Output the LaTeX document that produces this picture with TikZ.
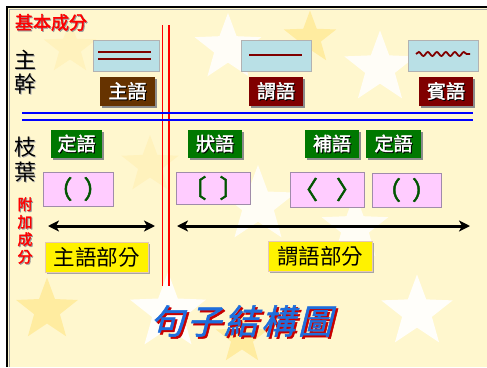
\documentclass[tikz,border=0pt]{standalone}
\usepackage{fontspec}
\newfontfamily\cjk{Noto Sans CJK TC}
\newfontfamily\cjkb[FakeBold=2]{Noto Sans CJK TC}
\newfontfamily\titlef[FakeSlant=0.25,FakeBold=1.5]{Noto Sans CJK TC}
\usetikzlibrary{shapes.geometric,shadows,arrows.meta,decorations.pathmorphing}
\definecolor{cream}{RGB}{255,247,206}
\definecolor{pyel}{RGB}{255,236,160}
\definecolor{lblue}{RGB}{185,224,230}
\definecolor{dred}{RGB}{128,0,0}
\definecolor{brownb}{RGB}{102,51,0}
\definecolor{gbox}{RGB}{0,120,0}
\definecolor{pinkb}{RGB}{255,204,255}
\definecolor{pinkd}{RGB}{160,140,170}
\definecolor{ybord}{RGB}{230,200,180}
\definecolor{bgreen}{RGB}{0,85,0}
\definecolor{tblue}{RGB}{30,110,220}
\definecolor{tred}{RGB}{200,0,0}
\newcommand\shtext[3]{\makebox[0pt][l]{\kern1pt\raisebox{-1pt}{\textcolor{#2}{#3}}}\textcolor{#1}{#3}}
\newcommand\outl[1]{%
\makebox[0pt][l]{\kern2pt\raisebox{-2pt}{\textcolor{tred}{#1}}}%
\textcolor{tblue}{#1}}
\tikzset{
  bgstar/.style={star, star points=5, star point ratio=2.4, minimum size=#1, inner sep=0, draw=none},
  lbbox/.style={fill=lblue, draw=gray!60, line width=0.6pt, inner sep=0, minimum height=31pt},
  shd/.style={drop shadow={shadow xshift=2pt, shadow yshift=-2pt, fill=black!45, opacity=1}},
  lab/.style={shd, inner sep=0, minimum height=29pt, font=\cjkb\fontsize{19}{19}\selectfont},
  glab/.style={lab, fill=gbox, minimum height=28pt},
  pbox/.style={fill=pinkb, draw=pinkd, line width=0.7pt, inner sep=0, font=\cjkb\fontsize{25}{25}\selectfont, text=bgreen},
  ybox/.style={fill=yellow, draw=ybord, line width=0.8pt, inner sep=0, minimum height=30pt,
     drop shadow={shadow xshift=1.5pt, shadow yshift=-1.5pt, fill=black!35, opacity=1},
     font=\cjk\fontsize{21.5}{21.5}\selectfont},
  dbl/.style={line width=3pt, {Stealth[length=11pt,width=11pt,inset=3pt]}-{Stealth[length=11pt,width=11pt,inset=3pt]}},
}
\begin{document}
\begin{tikzpicture}[x=1pt,y=-1pt]
\useasboundingbox (0,0) rectangle (487,367);
\fill[white] (0,0) rectangle (487,367);
\fill[cream] (7,7) rectangle (487,367);
% background stars
\node[bgstar=55pt, fill=pyel!70] (s1) at (70,48) {};
\node[bgstar=70pt, fill=white, opacity=0.85] (s2) at (228,48) {};
\node[bgstar=55pt, fill=pyel] (s3) at (310,38) {};
\node[bgstar=75pt, fill=white, opacity=0.85] (s4) at (380,68) {};
\node[bgstar=60pt, fill=pyel!70] (s5) at (150,165) {};
\node[bgstar=80pt, fill=white, opacity=0.8] (s6) at (258,205) {};
\node[bgstar=70pt, fill=white, opacity=0.8] (s7) at (355,228) {};
\node[bgstar=65pt, fill=pyel] (s9) at (47,310) {};
\node[bgstar=80pt, fill=white, opacity=0.9] (s10) at (168,312) {};
\node[bgstar=55pt, fill=pyel] (s11) at (242,338) {};
\node[bgstar=75pt, fill=white, opacity=0.9] (s12) at (417,312) {};
% frame
\draw[black!35, line width=1pt] (9.5,367) -- (9.5,9.5) -- (487,9.5);
\draw[black, line width=2pt] (7,367) -- (7,7) -- (487,7);
% left labels
\node[font=\cjkb\fontsize{18}{18}\selectfont] (jiben) at (51,23) {\shtext{red}{black!40}{基本成分}};
\node[font=\cjk\fontsize{22}{24}\selectfont, align=center, inner sep=0] (zhugan) at (25,73) {\shtext{black}{black!30}{主}\\\shtext{black}{black!30}{幹}};
\node[font=\cjk\fontsize{22}{25}\selectfont, align=center, inner sep=0] (zhiye) at (25,160) {\shtext{black}{black!30}{枝}\\\shtext{black}{black!30}{葉}};
\node[font=\cjkb\fontsize{15}{17.5}\selectfont, align=center, inner sep=0] (fujia) at (25,231) {\shtext{red}{black!40}{附}\\\shtext{red}{black!40}{加}\\\shtext{red}{black!40}{成}\\\shtext{red}{black!40}{分}};
% red vertical lines
\coordinate (r1t) at (162.5,25); \coordinate (r1b) at (162.5,286);
\coordinate (r2t) at (169,25); \coordinate (r2b) at (169,286);
\draw[red, line width=1.5pt] (r1t) -- (r1b);
\draw[red, line width=1.5pt] (r2t) -- (r2b);
% blue horizontal lines
\coordinate (b1l) at (22,113); \coordinate (b1r) at (473,113);
\coordinate (b2l) at (22,120); \coordinate (b2r) at (473,120);
\draw[blue, line width=2.5pt] (b1l) -- (b1r);
\draw[blue, line width=2.5pt] (b2l) -- (b2r);
% symbol boxes
\node[lbbox, minimum width=66pt] (lb1) at (126,55.5) {};
\node[lbbox, minimum width=70pt] (lb2) at (276,55.5) {};
\node[lbbox, minimum width=70pt] (lb3) at (443,55.5) {};
\draw[dred, line width=2pt] (98,52) -- (151,52);
\draw[dred, line width=2pt] (98,59) -- (151,59);
\draw[dred, line width=2pt] (249,55) -- (302,55);
\draw[dred, line width=1.8pt, decorate, decoration={snake, segment length=9pt, amplitude=2pt}] (416,54) -- (470,54);
% main labels
\node[lab, fill=brownb, minimum width=55pt] (zhuyu) at (127.5,91.5) {\shtext{white}{black}{主語}};
\node[lab, fill=dred, minimum width=54pt] (weiyu) at (276,91.5) {\shtext{white}{black}{謂語}};
\node[lab, fill=dred, minimum width=54pt] (binyu) at (446,91.5) {\shtext{white}{black}{賓語}};
% green labels
\node[glab, minimum width=51pt] (ding1) at (76.5,144) {\shtext{white}{black}{定語}};
\node[glab, minimum width=54pt] (zhuang) at (215,144) {\shtext{white}{black}{狀語}};
\node[glab, minimum width=54pt] (bu) at (332,144) {\shtext{white}{black}{補語}};
\node[glab, minimum width=55pt] (ding2) at (393.5,144) {\shtext{white}{black}{定語}};
% pink bracket boxes
\node[pbox, minimum width=70pt, minimum height=34pt] (p1) at (78,189) {（\hspace{11pt}）};
\node[pbox, minimum width=74pt, minimum height=32pt] (p2) at (213,188) {〔\hspace{13pt}〕};
\node[pbox, minimum width=74pt, minimum height=35pt] (p3) at (327,189.5) {〈\hspace{18pt}〉};
\node[pbox, minimum width=69pt, minimum height=34pt] (p4) at (406.5,190) {（\hspace{11pt}）};
% arrows
\coordinate (a1l) at (48,226); \coordinate (a1r) at (155,226);
\coordinate (a2l) at (177,226); \coordinate (a2r) at (470,226);
\draw[dbl] (a1l) -- (a1r);
\draw[dbl] (a2l) -- (a2r);
% yellow boxes
\node[ybox, minimum width=103pt] (y1) at (96.5,257) {主語部分};
\node[ybox, minimum width=104pt] (y2) at (320,256.5) {謂語部分};
% title
\node[font=\titlef\fontsize{34}{34}\selectfont, inner sep=0] (title) at (241,322) {\outl{句\hspace{3pt}子\hspace{3pt}結\hspace{3pt}構\hspace{3pt}圖}};
\end{tikzpicture}
\end{document}
